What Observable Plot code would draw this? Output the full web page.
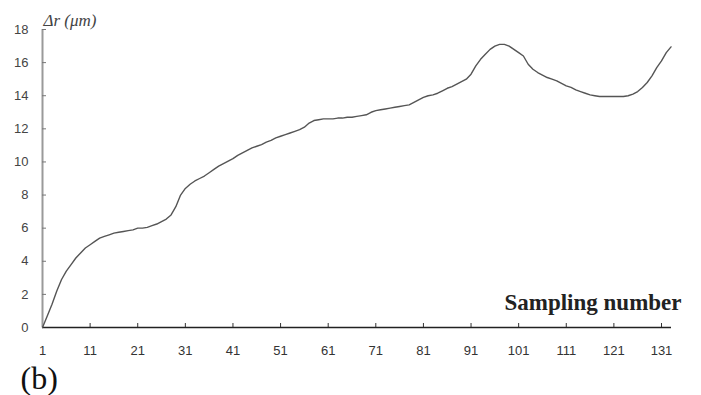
<!DOCTYPE html>
<html>
<head>
<meta charset="utf-8">
<script src="https://cdn.jsdelivr.net/npm/d3@7"></script>
<script src="https://cdn.jsdelivr.net/npm/@observablehq/plot@0.6"></script>
<style>
  html, body { margin: 0; padding: 0; background: #fff; }
  #chart { width: 701px; height: 395px; }
</style>
</head>
<body>
<div id="chart"></div>
<script>
// Sampling number and Δr (μm) values
const sampleNumbers = d3.range(1, 134);
const deltaR = [
  0, 0.7, 1.4, 2.2, 2.9, 3.4, 3.8, 4.2, 4.5, 4.8,
  5.0, 5.2, 5.4, 5.5, 5.6, 5.7, 5.75, 5.8, 5.85, 5.9,
  6.0, 6.0, 6.05, 6.15, 6.25, 6.4, 6.55, 6.8, 7.3, 8.0,
  8.4, 8.65, 8.85, 9.0, 9.15, 9.35, 9.55, 9.75, 9.9, 10.05,
  10.2, 10.4, 10.55, 10.7, 10.85, 10.95, 11.05, 11.2, 11.3, 11.45,
  11.55, 11.65, 11.75, 11.85, 11.95, 12.1, 12.35, 12.5, 12.55, 12.6,
  12.6, 12.6, 12.65, 12.65, 12.7, 12.7, 12.75, 12.8, 12.85, 13.0,
  13.1, 13.15, 13.2, 13.25, 13.3, 13.35, 13.4, 13.45, 13.6, 13.75,
  13.9, 14.0, 14.05, 14.15, 14.3, 14.45, 14.55, 14.7, 14.85, 15.0,
  15.3, 15.8, 16.2, 16.5, 16.8, 17.0, 17.1, 17.1, 17.0, 16.8,
  16.6, 16.4, 15.9, 15.6, 15.4, 15.25, 15.1, 15.0, 14.9, 14.75,
  14.6, 14.5, 14.35, 14.25, 14.15, 14.05, 14.0, 13.95, 13.95, 13.95,
  13.95, 13.95, 13.95, 14.0, 14.1, 14.25, 14.5, 14.8, 15.2, 15.7,
  16.1, 16.6, 16.95
];
const xTicks = [1, 11, 21, 31, 41, 51, 61, 71, 81, 91, 101, 111, 121, 131];
const yTicks = [0, 2, 4, 6, 8, 10, 12, 14, 16, 18];
const yLabel = "Δr (μm)";
const xLabel = "Sampling number";
const panelLabel = "(b)";

const data = sampleNumbers.map((s, i) => ({s, v: deltaR[i]}));

const chart = Plot.plot({
  width: 701,
  height: 395,
  marginLeft: 42,
  marginRight: 30,
  marginTop: 29,
  marginBottom: 68,
  style: {background: "#fff", overflow: "visible"},
  x: {domain: [1, 133.1], axis: null},
  y: {domain: [0, 18], axis: null},
  marks: [
    Plot.ruleX([1], {stroke: "#9a9a9a", strokeWidth: 2}),
    Plot.axisY({ticks: yTicks, tickSize: 4, dx: 4, stroke: "#777", tickFormat: () => "", label: null}),
    Plot.axisY({ticks: yTicks, tickSize: 0, tickPadding: 14, fontSize: 13, label: null,
      fontFamily: "Liberation Sans", color: "#444"}),
    Plot.axisX({ticks: xTicks.slice(1), tickSize: 4, dy: -4, stroke: "#333", anchor: "bottom",
      tickFormat: () => "", label: null}),
    Plot.axisX({ticks: xTicks, tickSize: 0, tickPadding: 18, fontSize: 13, label: null,
      fontFamily: "Liberation Sans", color: "#333", anchor: "bottom"}),
    Plot.ruleY([0], {stroke: "#222", strokeWidth: 1.5}),
    Plot.line(data, {x: "s", y: "v", stroke: "#555", strokeWidth: 1.4}),
    Plot.text([yLabel], {frameAnchor: "top-left", textAnchor: "start", lineAnchor: "bottom",
      dx: 1, dy: -4, fontSize: 17, fontStyle: "italic", fontFamily: "Liberation Serif", fill: "#444"}),
    Plot.text([xLabel], {frameAnchor: "bottom-right", textAnchor: "end", lineAnchor: "bottom",
      dx: 10, dy: -18, fontSize: 23, fontWeight: "bold", fontFamily: "Liberation Serif", fill: "#222"}),
    Plot.text([panelLabel], {frameAnchor: "bottom-left", textAnchor: "start", lineAnchor: "bottom",
      dx: -22, dy: 61, fontSize: 32, fontFamily: "Liberation Serif", fill: "#111"})
  ]
});
document.getElementById("chart").appendChild(chart);
</script>
</body>
</html>
